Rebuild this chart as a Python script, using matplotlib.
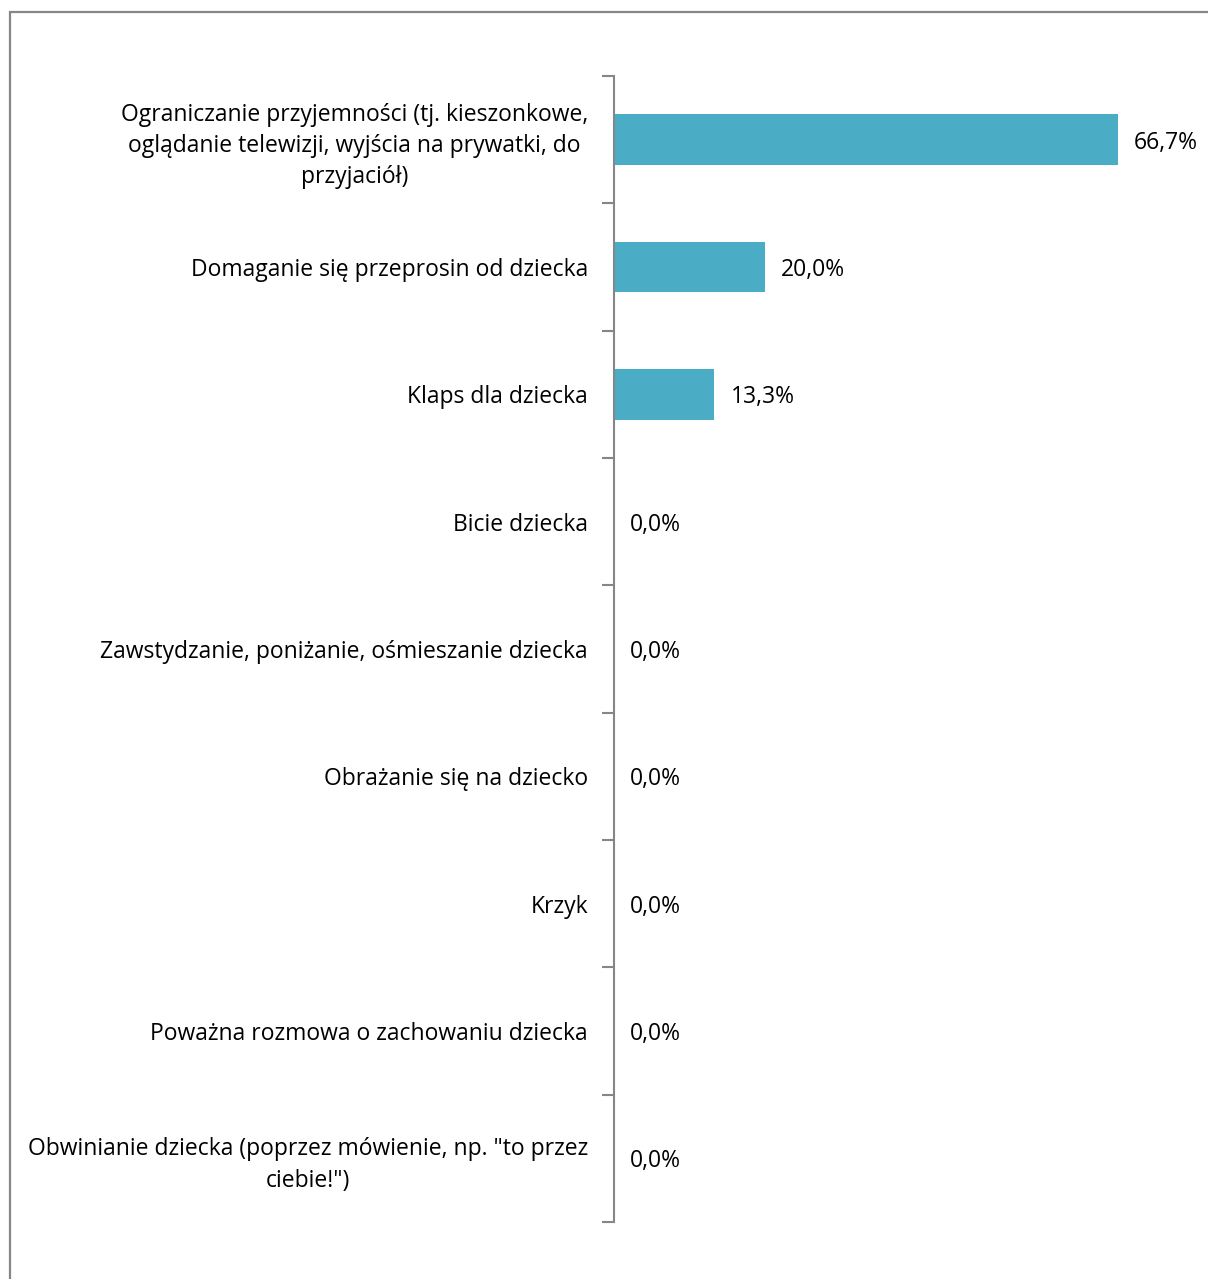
import matplotlib
matplotlib.use("Agg")
import matplotlib.pyplot as plt
from matplotlib.patches import Rectangle
import numpy as np

categories = [
    "Ograniczanie przyjemności (tj. kieszonkowe,\noglądanie telewizji, wyjścia na prywatki, do\nprzyjaciół)",
    "Domaganie się przeprosin od dziecka",
    "Klaps dla dziecka",
    "Bicie dziecka",
    "Zawstydzanie, poniżanie, ośmieszanie dziecka",
    "Obrażanie się na dziecko",
    "Krzyk",
    "Poważna rozmowa o zachowaniu dziecka",
    "Obwinianie dziecka (poprzez mówienie, np. \"to przez\nciebie!\")",
]
values = [66.7, 20.0, 13.3, 0.0, 0.0, 0.0, 0.0, 0.0, 0.0]
value_labels = ["66,7%", "20,0%", "13,3%", "0,0%", "0,0%", "0,0%", "0,0%", "0,0%", "0,0%"]

W, H = 1208, 1279
fig = plt.figure(figsize=(W / 100, H / 100), dpi=100)
plt.rcParams['font.family'] = ['Open Sans', 'DejaVu Sans']

gray = "#868686"
FS = 16.5
# outer chart frame (left and top visible; right/bottom beyond image)
fig.patches.append(Rectangle((10 / W, -0.1), 1.2, (H - 12) / H + 0.1, transform=fig.transFigure,
                             fill=False, edgecolor=gray, linewidth=1.6))

ax = fig.add_axes([614 / W, 57 / H, (W - 614) / W, (1222 - 76) / H])
y = np.arange(len(categories))
ax.barh(y, values, height=0.4, color="#4BACC6")
ax.set_ylim(len(categories) - 0.5, -0.5)
ax.set_xlim(0, (W - 614) / 7.556)

for s in ["top", "right", "bottom"]:
    ax.spines[s].set_visible(False)
ax.spines["left"].set_color(gray)
ax.spines["left"].set_linewidth(1.5)
ax.set_xticks([])

ax.set_yticks(y)
labels = ax.set_yticklabels(categories, fontsize=FS, color="black")
for t in labels:
    t.set_multialignment("center")
    t.set_linespacing(1.4)
ax.tick_params(axis="y", which="major", length=0, pad=18.8)
ax.set_yticks(np.arange(-0.5, len(categories)), minor=True)
ax.tick_params(axis="y", which="minor", length=9, width=1.5, color=gray, direction="out")

for yi, v, lab in zip(y, values, value_labels):
    ax.annotate(lab, (v, yi), xytext=(16, -3), textcoords="offset pixels",
                va="center", ha="left", fontsize=FS, color="black")

fig.savefig("out.png", dpi=100)
